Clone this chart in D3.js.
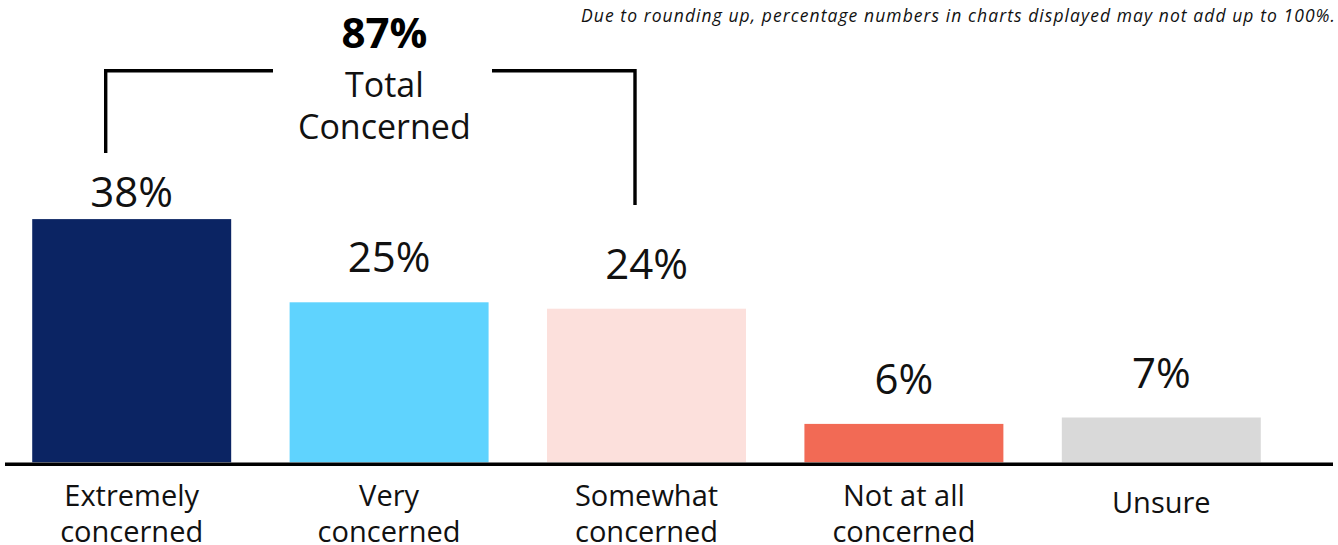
<!DOCTYPE html>
<html>
<head>
<meta charset="utf-8">
<script src="https://cdn.jsdelivr.net/npm/d3@7"></script>
<style>
  html, body { margin: 0; padding: 0; background: #fff; }
  svg { display: block; font-family: "Open Sans", sans-serif; }
</style>
</head>
<body>
<svg id="chart"></svg>
<script>
// data
const categories = ["Extremely concerned", "Very concerned", "Somewhat concerned", "Not at all concerned", "Unsure"];
const categoryLines = [["Extremely", "concerned"], ["Very", "concerned"], ["Somewhat", "concerned"], ["Not at all", "concerned"], ["Unsure"]];
const values = [38, 25, 24, 6, 7];
const barColors = ["#0b2463", "#5fd3fe", "#fce0dc", "#f26a55", "#d9d9d9"];
const totalValue = 87;
const totalLines = ["Total", "Concerned"];
const footnote = "Due to rounding up, percentage numbers in charts displayed may not add up to 100%.";

const width = 1338, height = 545;
const baseY = 462.3;

const svg = d3.select("#chart")
    .attr("width", width)
    .attr("height", height);

const x = d3.scaleBand()
    .domain(categories)
    .range([3, 1290])
    .paddingInner(0.227)
    .paddingOuter(0.1135);

const y = d3.scaleLinear()
    .domain([0, 40])
    .range([baseY, baseY - 256]);

const center = d => x(d) + x.bandwidth() / 2;
const maxValue = d3.max(values);

const data = categories.map((c, i) => ({ name: c, value: values[i], lines: categoryLines[i], color: barColors[i] }));

// bars
svg.append("g").selectAll("rect")
    .data(data)
    .join("rect")
    .attr("x", d => x(d.name))
    .attr("y", d => y(d.value))
    .attr("width", x.bandwidth())
    .attr("height", d => y(0) - y(d.value))
    .attr("fill", d => d.color);

// value labels
svg.append("g").selectAll("text")
    .data(data)
    .join("text")
    .attr("x", d => center(d.name))
    .attr("y", d => y(d.value) - (d.value === maxValue ? 12 : 30))
    .attr("text-anchor", "middle")
    .style("font-size", "42px")
    .style("fill", "#111")
    .text(d => d.value + "%");

// baseline
svg.append("line")
    .attr("x1", 5)
    .attr("x2", 1333)
    .attr("y1", baseY + 1.9)
    .attr("y2", baseY + 1.9)
    .attr("stroke", "#000")
    .attr("stroke-width", 3.6);

// category labels via bottom axis
const xAxis = svg.append("g")
    .attr("transform", `translate(0,${baseY})`)
    .call(d3.axisBottom(x).tickSize(0).tickFormat(""));
xAxis.select(".domain").remove();

xAxis.selectAll(".tick text")
    .attr("y", 0)
    .attr("dy", null)
    .style("font-family", "'Open Sans', sans-serif")
    .style("font-size", "29px")
    .style("fill", "#111")
    .each(function (d, i) {
        const lines = categoryLines[i];
        const t = d3.select(this);
        lines.forEach((ln, j) => {
            t.append("tspan")
                .attr("x", 0)
                .attr("y", lines.length > 1 ? 44 + j * 36 : 51)
                .text(ln);
        });
    });

// bracket annotation over the "concerned" bars
const bLeft = center(categories[0]) - 26;
const bRight = center(categories[2]) - 11.5;
const bTop = 70.8;
const bracket = svg.append("g")
    .attr("fill", "none")
    .attr("stroke", "#000")
    .attr("stroke-width", 3.4);
bracket.append("path")
    .attr("d", `M${bLeft},153 V${bTop} H273`);
bracket.append("path")
    .attr("d", `M492,${bTop} H${bRight} V205`);

const midX = (bLeft + bRight) / 2;
svg.append("text")
    .attr("x", midX + 14)
    .attr("y", 48)
    .attr("text-anchor", "middle")
    .style("font-size", "42px")
    .style("font-weight", "bold")
    .style("fill", "#000")
    .text(totalValue + "%");

svg.append("text")
    .attr("text-anchor", "middle")
    .style("font-size", "34px")
    .style("fill", "#111")
    .selectAll("tspan")
    .data(totalLines)
    .join("tspan")
    .attr("x", midX + 14)
    .attr("y", (d, i) => 97 + i * 42)
    .text(d => d);

// footnote
svg.append("text")
    .attr("x", 1335)
    .attr("y", 22)
    .attr("text-anchor", "end")
    .attr("textLength", 754)
    .attr("lengthAdjust", "spacing")
    .style("font-size", "17.5px")
    .style("font-style", "italic")
    .style("fill", "#111")
    .text(footnote);
</script>
</body>
</html>
